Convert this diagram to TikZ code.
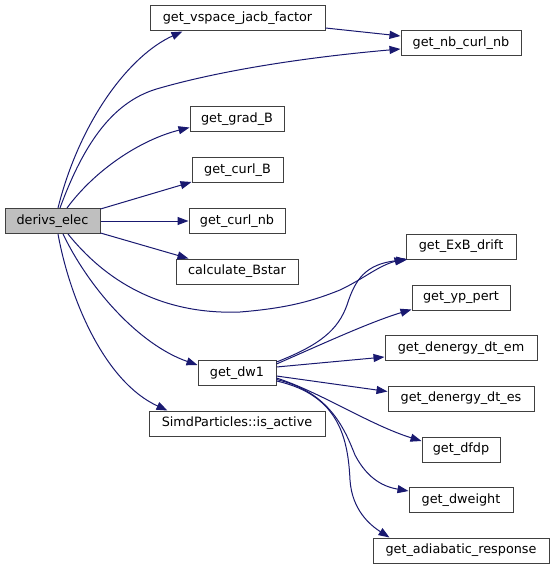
\documentclass[tikz,border=0pt]{standalone}
\usepackage{fontspec}
\setmainfont{DejaVu Sans}
\usetikzlibrary{arrows.meta,calc}
\definecolor{edgecol}{HTML}{191970}
\definecolor{nodeborder}{HTML}{404040}
\definecolor{rootfill}{HTML}{BFBFBF}
\tikzset{
  fn/.style={draw=nodeborder, line width=1pt, fill=white, minimum height=25pt, inner sep=0pt,
    font=\fontsize{12.8}{15}\selectfont},
  rootfn/.style={fn, fill=rootfill},
  call/.style={draw=edgecol, line width=1pt, -{Triangle[length=11pt,width=8pt]}}
}
\begin{document}
\begin{tikzpicture}[x=1pt,y=-1pt]
\useasboundingbox (0,0) rectangle (555,569);
% nodes
\node[rootfn, minimum width=95pt] (de) at (52.5,221) {derivs\_elec};
\node[fn, minimum width=175pt] (vj) at (237.5,18.5) {get\_vspace\_jacb\_factor};
\node[fn, minimum width=120pt] (nb) at (461,43.5) {get\_nb\_curl\_nb};
\node[fn, minimum width=94pt] (gb) at (237,119.5) {get\_grad\_B};
\node[fn, minimum width=91pt] (cb) at (237.5,170.5) {get\_curl\_B};
\node[fn, minimum width=96pt] (cn) at (237,221) {get\_curl\_nb};
\node[fn, minimum width=122pt] (cs) at (237,271.5) {calculate\_Bstar};
\node[fn, minimum width=110pt] (exb) at (461,246.5) {get\_ExB\_drift};
\node[fn, minimum width=98pt] (yp) at (461,297.5) {get\_yp\_pert};
\node[fn, minimum width=152pt] (em) at (461,348) {get\_denergy\_dt\_em};
\node[fn, minimum width=146pt] (es) at (461,398.5) {get\_denergy\_dt\_es};
\node[fn, minimum width=78pt] (dfdp) at (461,449.5) {get\_dfdp};
\node[fn, minimum width=104pt] (dw) at (461,500) {get\_dweight};
\node[fn, minimum width=176pt] (ad) at (461,550.5) {get\_adiabatic\_response};
\node[fn, minimum width=78pt] (dw1) at (237,373) {get\_dw1};
\node[fn, minimum width=176pt] (ia) at (237,423.5) {SimdParticles::is\_active};
% edges from derivs_elec
\draw[call] ($(de.north)+(5.5,0)$) .. controls (80,120) and (130,55) .. ($(vj.south west)+(33,0)$);
\draw[call] ($(de.north)+(7.5,0)$) .. controls (85,140) and (115,100) .. (160,88)
  .. controls (230,68) and (320,56) .. ($(nb.west)+(0,5.5)$);
\draw[call] ($(vj.east)+(0,9.5)$) -- ($(nb.west)+(0,-7.5)$);
\draw[call] ($(de.north)+(14.5,0)$) .. controls (95,170) and (140,140) .. ($(gb.south west)+(0,-5)$);
\draw[call] ($(de.north east)+(0,1)$) -- ($(cb.south west)+(0,-1.5)$);
\draw[call] (de.east) -- (cn.west);
\draw[call] ($(de.south east)+(0,-1)$) -- ($(cs.north west)+(13,0)$);
\draw[call] ($(de.south)+(15.5,0)$) .. controls (105,280) and (160,315) .. (240,312)
  .. controls (290,308) and (315,300) .. (340,290)
  .. controls (365,278) and (378,266) .. ($(exb.south west)+(0,-1)$);
\draw[call] ($(de.south)+(10.5,0)$) .. controls (90,290) and (140,345) .. ($(dw1.north west)+(0,5)$);
\draw[call] ($(de.south)+(5.5,0)$) .. controls (70,300) and (105,382) .. ($(ia.north west)+(19,0)$);
% edges from get_dw1
\draw[call] ($(dw1.north east)+(0,2)$) .. controls (320,345) and (338,330) .. (347,305)
  .. controls (355,280) and (365,264) .. ($(exb.south west)+(2,0)$);
\draw[call] ($(dw1.north east)+(0,4)$) .. controls (320,345) and (370,322) .. ($(yp.south west)+(0,-1)$);
\draw[call] ($(dw1.east)+(0,-6)$) -- ($(em.south west)+(0,-4)$);
\draw[call] ($(dw1.east)+(0,3)$) -- ($(es.north west)+(0,6)$);
\draw[call] ($(dw1.east)+(0,5)$) .. controls (320,392) and (370,425) .. ($(dfdp.north west)+(0,4.5)$);
\draw[call] ($(dw1.east)+(0,6.5)$) .. controls (330,392) and (345,430) .. (355,455)
  .. controls (368,480) and (385,487) .. ($(dw.north west)+(0,4)$);
\draw[call] ($(dw1.east)+(0,8)$) .. controls (340,395) and (348,440) .. (350,480)
  .. controls (352,510) and (370,525) .. ($(ad.north west)+(17,0)$);
\end{tikzpicture}
\end{document}
